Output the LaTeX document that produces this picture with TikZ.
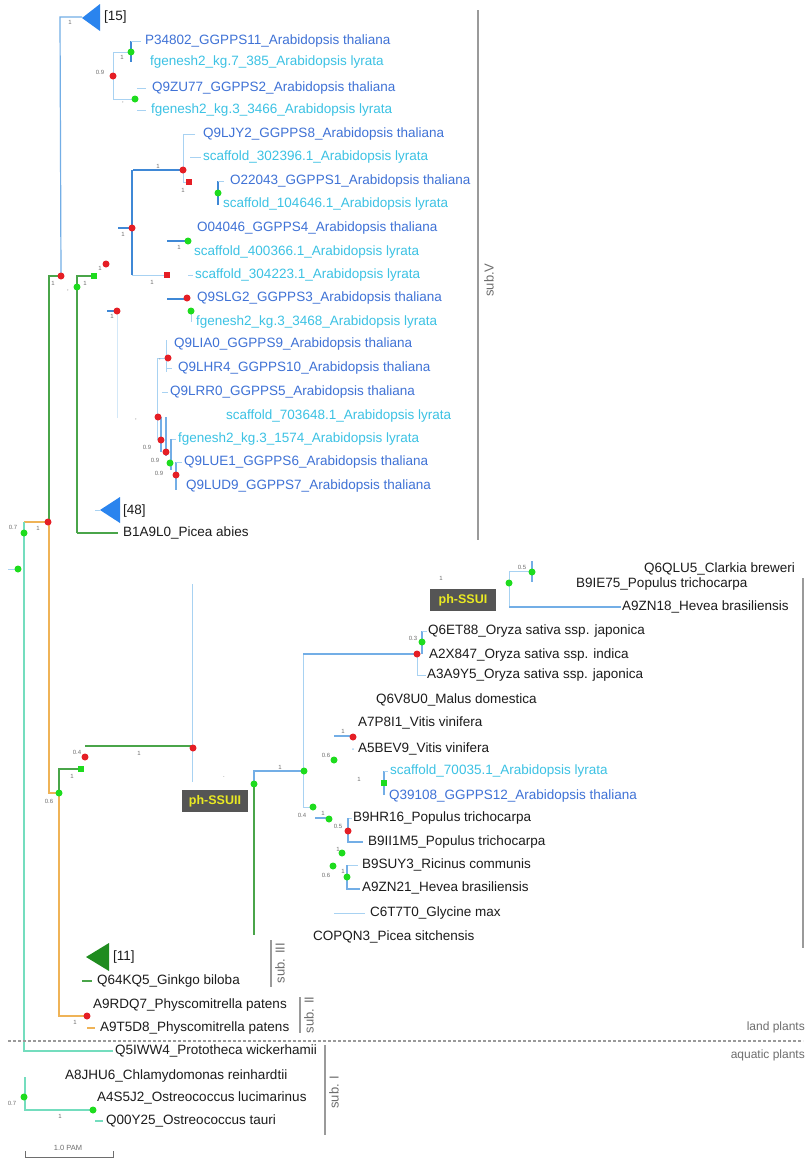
\documentclass[tikz,border=0pt]{standalone}
\usepackage{fontspec}
\setmainfont{Liberation Sans}
\definecolor{thal}{HTML}{3F72D6}
\definecolor{lyra}{HTML}{3CC2E4}
\definecolor{ink}{HTML}{1C1C1C}
\definecolor{supc}{HTML}{6E6E6E}
\definecolor{rdc}{HTML}{E51E25}
\definecolor{gdc}{HTML}{1EDC1E}
\definecolor{blc}{HTML}{3F88D6}
\definecolor{mbc}{HTML}{73AEE6}
\definecolor{lbc}{HTML}{A8D2F2}
\definecolor{grc}{HTML}{4AA54A}
\definecolor{orc}{HTML}{EFB357}
\definecolor{aqc}{HTML}{74DDBE}
\definecolor{tric}{HTML}{2A84EE}
\definecolor{gtric}{HTML}{1F8C1F}
\definecolor{brkc}{HTML}{9A9A9A}
\definecolor{boxc}{HTML}{555555}
\definecolor{yelc}{HTML}{EAEA22}
\begin{document}
\begin{tikzpicture}[x=1pt,y=-1pt,
 lab/.style={anchor=west,inner sep=0pt,font=\fontsize{13.5}{15}\selectfont},
 tha/.style={lab,text=thal},
 lyr/.style={lab,text=lyra},
 blk/.style={lab,text=ink},
 sv/.style={inner sep=0pt,font=\fontsize{6}{7}\selectfont,text=supc},
 rdot/.style={circle,fill=rdc,inner sep=0pt,minimum size=7pt},
 gdot/.style={circle,fill=gdc,inner sep=0pt,minimum size=7pt},
 rsq/.style={rectangle,fill=rdc,inner sep=0pt,minimum size=6pt},
 gsq/.style={rectangle,fill=gdc,inner sep=0pt,minimum size=6pt},
 bra/.style={draw=lbc,line width=1pt},
 brm/.style={draw=mbc,line width=1.2pt},
 brb/.style={draw=blc,line width=1.8pt},
 brg/.style={draw=grc,line width=1.6pt},
 bro/.style={draw=orc,line width=1.6pt},
 brq/.style={draw=aqc,line width=1.3pt},
 bkt/.style={draw=brkc,line width=2pt},
 sublab/.style={rotate=90,inner sep=0pt,text=supc,font=\fontsize{13}{15}\selectfont},
 tagbox/.style={fill=boxc,text=yelc,inner sep=0pt,minimum height=22pt,font=\bfseries\fontsize{12.5}{14}\selectfont},
 tri/.style={fill=tric},
 gtri/.style={fill=gtric}
]
\fill[white] (0,0) rectangle (807,1159);
\useasboundingbox (0,0) rectangle (807,1159);

%% ---------- top clade (sub.V) ----------
\draw[brm] (61,276) -- (60,17) -- (82,17);
\fill[tri] (82,18) -- (100,4) -- (100,31) -- cycle;
\node[blk,anchor=west] (c15) at (104,17) {[15]};
\node[sv] at (70,22) {1};

\draw[brb] (131,41) -- (131,62);
\draw[bra] (131,41) -- (141,41);
\draw[bra] (113,52) -- (131,52);
\draw[bra] (113,52) -- (113,99) -- (135,99);
\draw[bra] (137,88) -- (146,88);
\draw[bra] (137,110) -- (146,110);
\node[gdot] (g1) at (131,52) {};
\node[rdot] (r1) at (113,76) {};
\node[gdot] (g2) at (135,99) {};
\node[sv] at (122,57) {1};
\node[sv] at (100,72) {0.9};
\node[sv] at (123,103) {,};
\node[tha] (t1) at (145,41) {P34802\_GGPPS11\_Arabidopsis thaliana};
\node[lyr] (t2) at (150,62) {fgenesh2\_kg.7\_385\_Arabidopsis lyrata};
\node[tha] (t3) at (152,88) {Q9ZU77\_GGPPS2\_Arabidopsis thaliana};
\node[lyr] (t4) at (151,110) {fgenesh2\_kg.3\_3466\_Arabidopsis lyrata};

% GGPPS8 / GGPPS1 / GGPPS4 group
\draw[bra] (195,134) -- (183,134) -- (183,182) -- (189,182);
\draw[bra] (190,157) -- (201,157);
\draw[brb] (133,170) -- (183,170);
\draw[brb] (132,170) -- (132,275);
\draw[brb] (118,228) -- (132,228);
\draw[brb] (218,181) -- (218,205);
\draw[bra] (218,181) -- (224,181);
\draw[brb] (167,241) -- (188,241);
\draw[bra] (132,275) -- (167,275);
\draw[bra] (188,275) -- (193,275);
\node[rdot] (r2) at (183,170) {};
\node[rsq] (r3) at (189,182) {};
\node[gdot] (g3) at (218,193) {};
\node[rdot] (r4) at (132,228) {};
\node[gdot] (g4) at (188,241) {};
\node[rsq] (r5) at (167,275) {};
\node[sv] at (158,166) {1};
\node[sv] at (183,190) {1};
\node[sv] at (123,234) {1};
\node[sv] at (179,247) {1};
\node[sv] at (152,282) {1};
\node[tha] (t5) at (203,134) {Q9LJY2\_GGPPS8\_Arabidopsis thaliana};
\node[lyr] (t6) at (203,157) {scaffold\_302396.1\_Arabidopsis lyrata};
\node[tha] (t7) at (230,181) {O22043\_GGPPS1\_Arabidopsis thaliana};
\node[lyr] (t8) at (223,204) {scaffold\_104646.1\_Arabidopsis lyrata};
\node[tha] (t9) at (197,228) {O04046\_GGPPS4\_Arabidopsis thaliana};
\node[lyr] (t10) at (194,252) {scaffold\_400366.1\_Arabidopsis lyrata};
\node[lyr] (t11) at (195,275) {scaffold\_304223.1\_Arabidopsis lyrata};

% backbone near top
\draw[brg] (49,522) -- (49,276) -- (61,276);
\draw[brg] (77,533) -- (77,276) -- (94,276);
\draw[brg] (77,533) -- (118,533);
\node[rdot] (r6) at (61,276) {};
\node[gdot] (g5) at (77,287) {};
\node[gsq] (g6) at (94,276) {};
\node[rdot] (r7) at (106,264) {};
\node[sv] at (53,283) {1};
\node[sv] at (85,283) {1};
\node[sv] at (68,291) {,};
\node[sv] at (100,268) {1};

% GGPPS3
\draw[brb] (167,299) -- (187,299);
\draw[brb] (107,311) -- (117,311);
\draw[draw=lbc!50,line width=0.8pt] (117,311) -- (117,418);
\draw[bra] (191,311) -- (191,322);
\node[rdot] (r8) at (187,298) {};
\node[rdot] (r9) at (117,311) {};
\node[gdot] (g7) at (191,311) {};
\node[sv] at (112,316) {1};
\node[tha] (t12) at (197,298) {Q9SLG2\_GGPPS3\_Arabidopsis thaliana};
\node[lyr] (t13) at (196,322) {fgenesh2\_kg.3\_3468\_Arabidopsis lyrata};

% GGPPS9/10/5/6/7
\draw[bra] (166,340) -- (166,372);
\draw[bra] (166,368) -- (172,368);
\draw[bra] (157,358) -- (168,358);
\draw[bra] (157,358) -- (157,440);
\draw[bra] (162,392) -- (168,392);
\draw[brm] (161,417) -- (161,452);
\draw[brm] (166,417) -- (166,456);
\draw[bra] (171,439) -- (176,439);
\draw[brm] (171,439) -- (171,470);
\draw[brm] (176,462) -- (176,490);
\draw[bra] (176,462) -- (182,462);
\node[rdot] (r10) at (168,358) {};
\node[rdot] (r11) at (158,417) {};
\node[rdot] (r12) at (161,440) {};
\node[rdot] (r13) at (166,452) {};
\node[gdot] (g8) at (170,463) {};
\node[rdot] (r14) at (176,475) {};
\node[sv] at (160,360) {,};
\node[sv] at (136,420) {,};
\node[sv] at (147,447) {0.9};
\node[sv] at (155,460) {0.9};
\node[sv] at (159,473) {0.9};
\node[tha] (t14) at (174,344) {Q9LIA0\_GGPPS9\_Arabidopsis thaliana};
\node[tha] (t15) at (178,368) {Q9LHR4\_GGPPS10\_Arabidopsis thaliana};
\node[tha] (t16) at (170,392) {Q9LRR0\_GGPPS5\_Arabidopsis thaliana};
\node[lyr] (t17) at (226,416) {scaffold\_703648.1\_Arabidopsis lyrata};
\node[lyr] (t18) at (178,439) {fgenesh2\_kg.3\_1574\_Arabidopsis lyrata};
\node[tha] (t19) at (184,462) {Q9LUE1\_GGPPS6\_Arabidopsis thaliana};
\node[tha] (t20) at (186,486) {Q9LUD9\_GGPPS7\_Arabidopsis thaliana};

% [48] and Picea abies
\draw[bra] (95,510) -- (100,510);
\fill[tri] (100,510) -- (120,497) -- (120,523) -- cycle;
\node[blk] (c48) at (123,511) {[48]};
\node[blk] (t21) at (123,533) {B1A9L0\_Picea abies};

% sub.V bracket
\draw[bkt] (478,10) -- (478,540);
\node[sublab] at (489,280) {sub.V};

%% ---------- root / backbone ----------
\draw[bro] (24,522) -- (48,522);
\draw[bro] (49,522) -- (49,793) -- (59,793);
\draw[brq] (24,522) -- (24,1051) -- (113,1051);
\draw[bra] (8,569) -- (18,569);
\node[rdot] (r15) at (48,522) {};
\node[gdot] (g9) at (24,533) {};
\node[gdot] (g10) at (18,569) {};
\node[sv] at (38,528) {1};
\node[sv] at (13,527) {0.7};

%% ---------- lower land-plant clades ----------
\draw[bra] (192,584) -- (192,782);
\draw[brg] (85,746) -- (193,746);
\draw[brg] (59,793) -- (59,769) -- (81,769);
\draw[bro] (59,793) -- (59,1016) -- (87,1016);
\node[rdot] (r16) at (193,748) {};
\node[rdot] (r17) at (85,757) {};
\node[gdot] (g11) at (59,793) {};
\node[gsq] (g12) at (81,769) {};
\node[rdot] (r18) at (87,1016) {};
\node[sv] at (139,753) {1};
\node[sv] at (77,752) {0.4};
\node[sv] at (72,776) {1};
\node[sv] at (49,801) {0.6};
\node[sv] at (75,1022) {1};
\node[sv] at (224,777) {.};

\fill[gtri] (86,957) -- (109,943) -- (109,971) -- cycle;
\node[blk] (c11) at (113,957) {[11]};
\draw[brg] (82,981) -- (92,981);
\draw[bro] (87,1028) -- (95,1028);
\node[blk] (t22) at (97,981) {Q64KQ5\_Ginkgo biloba};
\node[blk] (t23) at (93,1005) {A9RDQ7\_Physcomitrella patens};
\node[blk] (t24) at (100,1028) {A9T5D8\_Physcomitrella patens};

\draw[bkt] (271,940) -- (271,987);
\node[sublab] at (280,963) {sub. III};
\draw[bkt] (300,997) -- (300,1033);
\node[sublab] at (309,1015) {sub. II};

%% ---------- ph-SSU ----------
\node[tagbox,minimum width=66pt] (ssu2) at (215,801) {ph-SSUII};
\node[tagbox,minimum width=66pt] (ssu1) at (463,600) {ph-SSUI};
\node[sv] at (441,578) {1};

\draw[brg] (254,784) -- (254,935);
\draw[brm] (254,784) -- (254,771) -- (304,771);
\draw[bra] (303,654) -- (303,807) -- (313,807);
\draw[brm] (303,654) -- (417,654);
\node[gdot] (g13) at (254,784) {};
\node[gdot] (g14) at (304,771) {};
\node[sv] at (280,767) {1};

% Oryza
\draw[bra] (417,654) -- (417,675) -- (426,675);
\draw[brm] (422,631) -- (422,654);
\draw[bra] (422,631) -- (427,631);
\node[rdot] (r19) at (417,654) {};
\node[gdot] (g15) at (422,642) {};
\node[sv] at (413,638) {0.3};
\node[blk] (t25) at (428,631) {Q6ET88\_Oryza sativa ssp. japonica};
\node[blk] (t26) at (429,655) {A2X847\_Oryza sativa ssp. indica};
\node[blk] (t27) at (427,675) {A3A9Y5\_Oryza sativa ssp. japonica};

% ph-SSUI clade
\draw[bra] (509,571) -- (509,607);
\draw[bra] (509,571) -- (532,571);
\draw[brm] (532,561) -- (532,582);
\draw[brm] (509,607) -- (621,607);
\node[gdot] (g16) at (509,583) {};
\node[gdot] (g17) at (532,572) {};
\node[sv] at (522,567) {0.5};
\node[blk] (t28) at (644,569) {Q6QLU5\_Clarkia breweri};
\node[blk] (t29) at (576,584) {B9IE75\_Populus trichocarpa};
\node[blk] (t30) at (622,607) {A9ZN18\_Hevea brasiliensis};
\draw[bkt] (803,578) -- (803,948);

% Malus / Vitis / Arabidopsis GGPPS12
\node[blk] (t31) at (376,700) {Q6V8U0\_Malus domestica};
\draw[brm] (334,736) -- (353,736);
\node[rdot] (r20) at (353,737) {};
\node[sv] at (343,731) {1};
\node[blk] (t32) at (358,723) {A7P8I1\_Vitis vinifera};
\node[blk] (t33) at (358,749) {A5BEV9\_Vitis vinifera};
\fill[lbc] (353,749) circle (1pt);
\node[gdot] (g18) at (334,760) {};
\node[sv] at (326,755) {0.6};
\draw[brm] (384,771) -- (384,795);
\draw[bra] (384,771) -- (388,771);
\node[gsq] (g19) at (384,783) {};
\node[sv] at (359,779) {1};
\node[lyr] (t34) at (390,771) {scaffold\_70035.1\_Arabidopsis lyrata};
\node[tha] (t35) at (389,796) {Q39108\_GGPPS12\_Arabidopsis thaliana};

% Populus / Ricinus / Hevea / Glycine / Picea
\node[gdot] (g20) at (313,807) {};
\node[sv] at (302,815) {0.4};
\draw[brm] (315,818) -- (329,818);
\node[gdot] (g21) at (329,819) {};
\node[sv] at (323,813) {1};
\draw[bra] (348,818) -- (352,818);
\draw[brm] (348,818) -- (348,842) -- (363,842);
\node[rdot] (r21) at (348,831) {};
\node[sv] at (338,826) {0.5};
\node[blk] (t36) at (353,818) {B9HR16\_Populus trichocarpa};
\node[blk] (t37) at (368,842) {B9II1M5\_Populus trichocarpa};
\node[gdot] (g22) at (342,853) {};
\node[sv] at (338,849) {1};
\node[gdot] (g23) at (333,866) {};
\node[sv] at (326,875) {0.6};
\draw[bra] (347,865) -- (358,865);
\draw[brm] (347,865) -- (347,889) -- (360,889);
\node[gdot] (g24) at (347,877) {};
\node[sv] at (343,871) {1};
\node[blk] (t38) at (362,865) {B9SUY3\_Ricinus communis};
\node[blk] (t39) at (362,888) {A9ZN21\_Hevea brasiliensis};
\draw[bra] (334,913) -- (365,913);
\node[blk] (t40) at (370,913) {C6T7T0\_Glycine max};
\node[blk] (t41) at (313,937) {COPQN3\_Picea sitchensis};

%% ---------- land / aquatic divider ----------
\draw[draw=brkc,line width=1.2pt,dash pattern=on 3pt off 2pt] (8,1041) -- (803,1041);
\node[anchor=east,inner sep=0pt,text=supc,font=\fontsize{12}{14}\selectfont] at (805,1027) {land plants};
\node[anchor=east,inner sep=0pt,text=supc,font=\fontsize{12}{14}\selectfont] at (805,1055) {aquatic plants};

%% ---------- aquatic ----------
\node[blk] (t42) at (115,1051) {Q5IWW4\_Prototheca wickerhamii};
\node[blk] (t43) at (65,1076) {A8JHU6\_Chlamydomonas reinhardtii};
\node[blk] (t44) at (97,1098) {A4S5J2\_Ostreococcus lucimarinus};
\node[blk] (t45) at (106,1121) {Q00Y25\_Ostreococcus tauri};
\draw[brq] (25,1077) -- (25,1110) -- (93,1110);
\draw[brq] (95,1121) -- (103,1121);
\node[gdot] (g25) at (24,1097) {};
\node[gdot] (g26) at (93,1110) {};
\node[sv] at (12,1103) {0.7};
\node[sv] at (60,1116) {1};
\draw[bkt] (325,1045) -- (325,1135);
\node[sublab] at (334,1092) {sub. I};

% scale bar
\draw[draw=supc,line width=0.8pt] (25,1151) -- (25,1157) -- (113,1157) -- (113,1151);
\node[sv,font=\fontsize{7.5}{9}\selectfont] at (68,1148) {1.0 PAM};
\end{tikzpicture}
\end{document}
